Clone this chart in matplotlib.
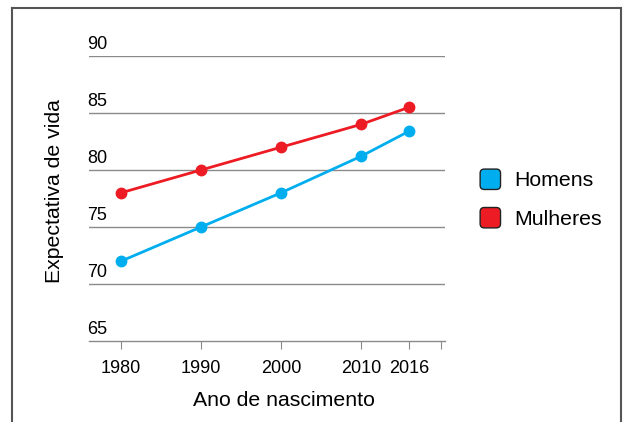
import matplotlib.pyplot as plt
from matplotlib.lines import Line2D
from matplotlib.patches import FancyBboxPatch, Patch
from matplotlib.legend_handler import HandlerPatch

plt.rcParams['font.family'] = ['Liberation Sans', 'DejaVu Sans']

years = [1980, 1990, 2000, 2010, 2016]
homens = [72, 75, 78, 81.2, 83.4]
mulheres = [78, 80, 82, 84, 85.5]
y_ticks = [65, 70, 75, 80, 85, 90]
x_ticks = [1980, 1990, 2000, 2010, 2016, 2020]
x_labels = ["1980", "1990", "2000", "2010", "2016", ""]

blue = "#00aeef"
red = "#ed1c24"
grid = "#8a8a8a"

fig = plt.figure(figsize=(6.24, 4.22), dpi=100)
ax = fig.add_axes([89 / 624, 1 - 341 / 422, 356 / 624, 285 / 422])

for v in y_ticks:
    if v > 65:
        ax.axhline(v, color=grid, lw=1.0, zorder=1)
    ax.text(-0.005, v + 0.3, str(v), transform=ax.get_yaxis_transform(),
            ha="left", va="bottom", fontsize=13)

ax.plot(years, mulheres, color=red, lw=2.0, marker="o", ms=7.5, zorder=3)
ax.plot(years, homens, color=blue, lw=2.0, marker="o", ms=7.5, zorder=3)

ax.set_xlim(1976, 2020.5)
ax.set_ylim(65, 90)
ax.set_xticks(x_ticks)
ax.set_xticklabels(x_labels, fontsize=13)
ax.set_yticks([])
ax.tick_params(axis="x", length=6, color=grid, pad=8)
for s in ["top", "right", "left"]:
    ax.spines[s].set_visible(False)
ax.spines["bottom"].set_color(grid)
ax.spines["bottom"].set_linewidth(1.0)
ax.set_xlabel("Ano de nascimento", fontsize=15.3, labelpad=10, x=0.548)
fig.text(55 / 624, 1 - 191 / 422, "Expectativa de vida", rotation=90,
         ha="center", va="center", fontsize=15.3)


def rounded_box(legend, orig_handle, xdescent, ydescent, width, height, fontsize):
    side = min(width, height)
    return FancyBboxPatch((-xdescent, -ydescent + (height - side) / 2), side, side,
                          boxstyle="round,pad=0,rounding_size=3")


handles = [Patch(facecolor=blue, edgecolor="#222222", lw=1.0),
           Patch(facecolor=red, edgecolor="#222222", lw=1.0)]
fig.legend(handles, ["Homens", "Mulheres"], loc="center left",
           bbox_to_anchor=(461 / 624, 1 - 199 / 422), frameon=False,
           fontsize=15.3, handlelength=1.1, handleheight=1.1,
           handletextpad=0.5, labelspacing=0.8,
           handler_map={Patch: HandlerPatch(patch_func=rounded_box)})

frame_kw = dict(color="#555555", lw=1.5, transform=fig.transFigure)
fig.add_artist(Line2D([11.5 / 624, 621 / 624], [1 - 7.5 / 422, 1 - 7.5 / 422], **frame_kw))
fig.add_artist(Line2D([11.5 / 624, 11.5 / 624], [0, 1 - 7.5 / 422], **frame_kw))
fig.add_artist(Line2D([621 / 624, 621 / 624], [0, 1 - 7.5 / 422], **frame_kw))

fig.savefig("out.png", dpi=100)
